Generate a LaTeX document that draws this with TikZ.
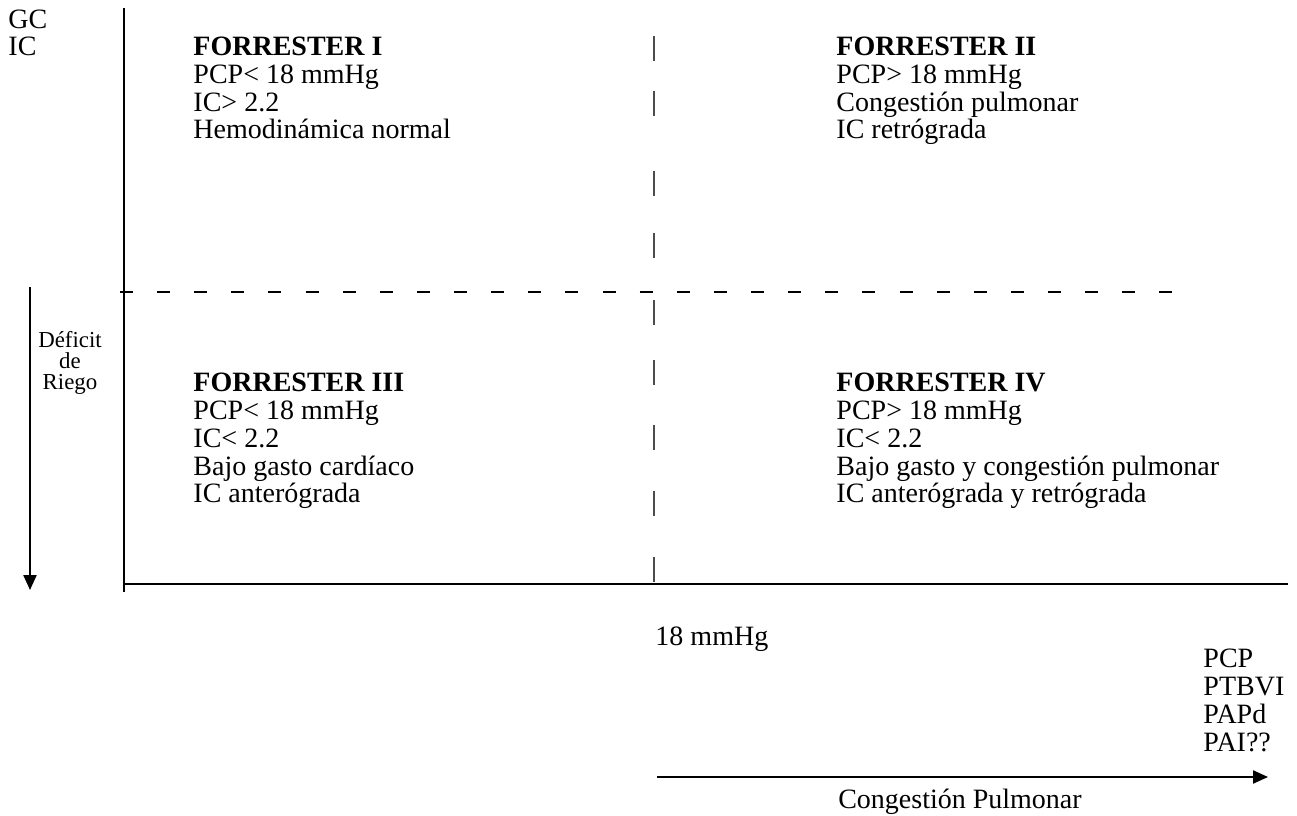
\documentclass[tikz,border=0pt]{standalone}
\usepackage{fontspec}
\setmainfont{Liberation Serif}
\usetikzlibrary{arrows.meta}

\begin{document}
\begin{tikzpicture}[x=0.4286pt,y=-0.4286pt,
  txt/.style={anchor=base west,inner sep=0pt,align=left,font=\fontsize{12}{11.9}\selectfont},
  axis/.style={line width=0.8pt},
  flecha/.style={line width=0.8pt,-{Triangle[width=5.6pt,length=6.4pt]}}]
\useasboundingbox (0,0) rectangle (1297,816);
\coordinate (ytop) at (124,8);
\coordinate (ybot) at (124,592);
\coordinate (x0) at (124,584);
\coordinate (x1) at (1288,584);
\coordinate (d0) at (120,292);
\coordinate (d1) at (1173,292);
\coordinate (a0) at (30,287);
\coordinate (a1) at (30,590);
\coordinate (b0) at (657,777);
\coordinate (b1) at (1268,777);
\draw[axis] (ytop) -- (ybot);
\draw[axis] (x0) -- (x1);
\draw[line width=0.6pt,dash pattern=on 5.57pt off 10.34pt] (d0) -- (d1);
\foreach \y in {36,91,171,233,300,360,425,491,557}
  \draw[black!70,line width=0.7pt] (654,\y) -- ++(0,25);
\node[txt] (gc) at (8,56) {GC\\IC};
\node[txt] (f1) at (193,139) {\textbf{FORRESTER I}\\PCP< 18 mmHg\\IC> 2.2\\Hemodinámica normal};
\node[txt] (f2) at (836,139) {\textbf{FORRESTER II}\\PCP> 18 mmHg\\Congestión pulmonar\\IC retrógrada};
\node[txt] (f3) at (193,503) {\textbf{FORRESTER III}\\PCP< 18 mmHg\\IC< 2.2\\Bajo gasto cardíaco\\IC anterógrada};
\node[txt] (f4) at (836,503) {\textbf{FORRESTER IV}\\PCP> 18 mmHg\\IC< 2.2\\Bajo gasto y congestión pulmonar\\IC anterógrada y retrógrada};
\node[anchor=base,inner sep=0pt,align=center,font=\fontsize{9.8}{9}\selectfont] (deficit) at (70,390) {Déficit\\de\\Riego};
\node[txt] (mmhg) at (655,645) {18 mmHg};
\node[txt] (pcp) at (1203,751) {PCP\\PTBVI\\PAPd\\PAI??};
\node[anchor=base,inner sep=0pt,font=\fontsize{12}{11.9}\selectfont] (cong) at (960,808) {Congestión Pulmonar};
\draw[flecha] (a0) -- (a1);
\draw[flecha] (b0) -- (b1);
\end{tikzpicture}
\end{document}
